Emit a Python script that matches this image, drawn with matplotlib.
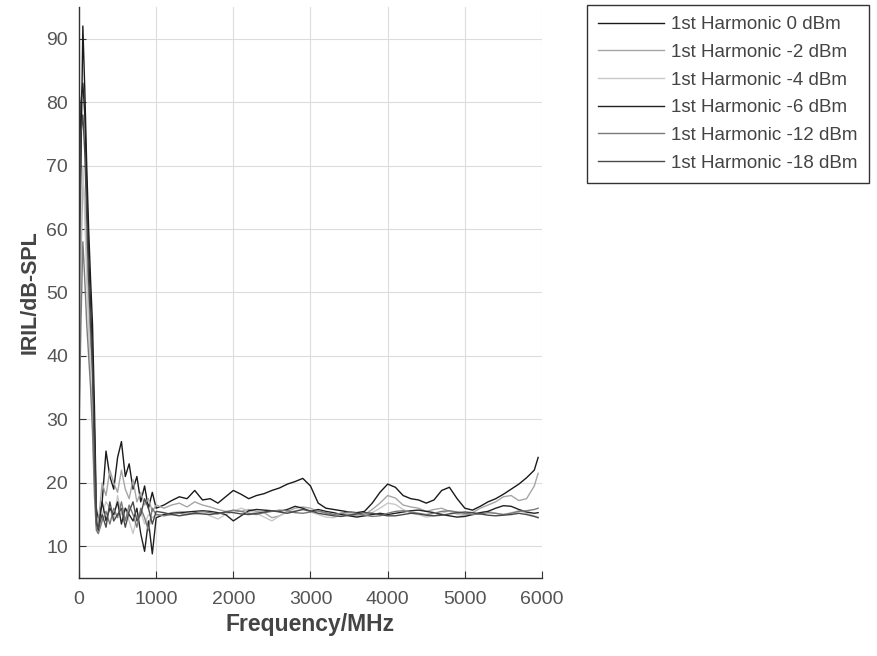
import matplotlib
matplotlib.use("Agg")
import matplotlib.pyplot as plt

plt.rcParams["font.family"] = ["Liberation Sans", "DejaVu Sans"]

# frequency grid (MHz): fine steps below 1 GHz, 100 MHz above
freq = (list(range(0, 251, 25))
        + list(range(300, 1001, 50))
        + list(range(1100, 5901, 100)) + [5950])

h0 = [35, 70, 92, 82, 70, 60, 52, 45, 32, 16, 14,
      17, 25, 21, 19, 24, 26.5, 21, 23, 19, 21, 17, 19.5, 16, 18.5, 16,
      16.5, 17.2, 17.8, 17.5, 18.8, 17.3, 17.5, 16.8, 17.8, 18.8,
      18.2, 17.5, 18.0, 18.3, 18.8, 19.2, 19.8, 20.2, 20.7, 19.5,
      16.8, 16.0, 15.8, 15.6, 15.4, 15.3, 15.5, 16.8, 18.5, 19.8,
      19.3, 18.0, 17.5, 17.3, 16.8, 17.3, 18.8, 19.3, 17.5, 16.0,
      15.7, 16.3, 17.0, 17.5, 18.2, 19.0, 19.8, 20.8, 22.0, 24.0]

h2 = [30, 55, 68, 64, 56, 48, 42, 36, 25, 15, 13.5,
      20, 18, 22, 20, 18.5, 22, 19, 17.5, 20.5, 17, 18.5, 16.5, 17.5, 15.5, 16.5,
      16.0, 16.5, 16.8, 16.2, 17.0, 16.5, 16.2, 15.8, 15.5, 15.6,
      15.5, 15.8, 15.5, 15.3, 14.5, 14.8, 15.5, 16.0, 16.2, 16.0,
      15.5, 15.2, 15.0, 15.2, 15.0, 14.8, 15.0, 15.8, 16.8, 18.0,
      17.6, 16.5, 16.2, 16.0, 15.5, 15.8, 16.0, 15.5, 15.2, 15.0,
      15.3, 16.0, 16.5, 17.0, 17.8, 18.0, 17.2, 17.5, 19.5, 21.5]

h4 = [40, 62, 70, 62, 52, 44, 38, 30, 20, 13, 12,
      15, 17, 16, 14, 18, 15, 16, 14, 12, 14.5, 15.5, 13.5, 15, 14.5, 15,
      15.0, 15.3, 15.5, 15.2, 15.0, 15.3, 14.8, 14.3, 15.0, 15.5,
      16.0, 15.6, 15.2, 14.6, 14.0, 14.8, 15.4, 15.6, 15.8, 15.4,
      15.0, 14.6, 14.5, 15.0, 15.2, 15.0, 14.8, 15.3, 16.0, 16.8,
      16.6, 15.8, 15.3, 15.0, 14.6, 14.8, 15.2, 15.6, 15.0, 14.8,
      15.0, 15.3, 15.5, 15.2, 15.0, 15.3, 15.6, 15.2, 14.8, 14.6]

h6 = [55, 80, 83, 78, 66, 56, 48, 40, 28, 14, 12.5,
      17, 14, 16, 15, 17, 13.5, 16, 15, 14, 16, 12, 9.2, 14, 8.8, 14.5,
      15.0, 15.2, 15.3, 15.4, 15.5, 15.6, 15.5, 15.3, 15.0, 14.0,
      14.8, 15.6, 15.8, 15.7, 15.6, 15.5, 15.8, 16.3, 16.0, 15.5,
      15.8, 15.5, 15.3, 15.0, 14.8, 14.6, 14.8, 15.0, 15.2, 15.0,
      15.2, 15.4, 15.6, 15.7, 15.5, 15.3, 15.0, 14.8, 14.6, 14.7,
      15.0, 15.3, 15.5, 16.0, 16.4, 16.3, 15.8, 15.4, 15.2, 15.3]

h12 = [28, 45, 58, 52, 45, 40, 35, 28, 18, 12.5, 12,
       14, 15.5, 13.5, 16, 14.5, 17, 14, 16.5, 15, 13, 16, 14.5, 12.5, 16, 15,
       14.8, 15.0, 15.2, 15.0, 15.3, 15.5, 15.3, 15.1, 15.4, 15.7,
       15.5, 15.2, 15.0, 15.3, 15.5, 15.7, 15.6, 15.3, 15.2, 15.4,
       15.6, 15.3, 15.0, 15.2, 15.4, 15.2, 14.9, 14.7, 14.8, 15.2,
       15.5, 15.6, 15.4, 15.2, 15.0, 15.2, 15.5, 15.6, 15.4, 15.2,
       15.0, 15.1, 15.3, 15.2, 15.0, 15.2, 15.5, 15.6, 15.8, 16.0]

h18 = [45, 75, 78, 72, 62, 52, 45, 38, 24, 13.5, 12.8,
       15, 13, 17, 14, 15, 16, 13, 15.5, 17, 14, 15, 17.5, 16, 13.5, 15.5,
       15.3, 15.0, 14.8, 15.0, 15.2, 15.1, 15.0, 15.2, 15.4, 15.3,
       15.1, 15.0, 15.2, 15.4, 15.6, 15.4, 15.2, 15.5, 15.8, 15.6,
       15.2, 15.0, 14.8, 14.7, 14.9, 15.1, 15.3, 15.2, 15.0, 14.8,
       14.8, 15.0, 15.2, 15.1, 14.9, 14.8, 14.9, 15.1, 15.3, 15.4,
       15.3, 15.1, 14.9, 14.8, 14.9, 15.0, 15.2, 15.0, 14.7, 14.5]

labels = ["1st Harmonic 0 dBm", "1st Harmonic -2 dBm", "1st Harmonic -4 dBm",
          "1st Harmonic -6 dBm", "1st Harmonic -12 dBm", "1st Harmonic -18 dBm"]
colors = ["#1a1a1a", "#a6a6a6", "#c8c8c8", "#222222", "#7a7a7a", "#4a4a4a"]

fig = plt.figure(figsize=(8.78, 6.56), dpi=100)
ax = fig.add_axes([79 / 878, 1 - 578 / 656, (542 - 79) / 878, 571 / 656])

for y, lab, c in zip([h0, h2, h4, h6, h12, h18], labels, colors):
    ax.plot(freq, y, color=c, lw=1.0, label=lab)

ax.set_xlim(0, 6000)
ax.set_ylim(5, 95)
ax.set_xticks(range(0, 6001, 1000))
ax.set_yticks(range(10, 91, 10))
ax.grid(True, color="#dcdcdc", lw=0.8)
ax.set_axisbelow(True)
for s in ["top", "right"]:
    ax.spines[s].set_visible(False)
for s in ["left", "bottom"]:
    ax.spines[s].set_color("#333333")
    ax.spines[s].set_linewidth(1.0)
ax.tick_params(direction="in", length=5, labelsize=14, colors="#333333",
               labelcolor="#555555")
ax.tick_params(axis="x", pad=9)
ax.tick_params(axis="y", pad=8)

ax.set_xlabel("Frequency/MHz", fontsize=16.5, fontweight="bold", color="#444444",
              labelpad=4)
ax.set_ylabel("IRIL/dB-SPL", fontsize=15.5, fontweight="bold", color="#444444",
              labelpad=4)

leg = ax.legend(loc="upper left", bbox_to_anchor=(587 / 878, 1 - 5 / 656),
                bbox_transform=fig.transFigure, borderaxespad=0, fontsize=13.5,
                handlelength=3.5, handletextpad=0.4, labelspacing=0.56,
                borderpad=0.6, fancybox=False, framealpha=1)
leg.get_frame().set_edgecolor("#333333")
leg.get_frame().set_linewidth(1.0)
for t in leg.get_texts():
    t.set_color("#444444")

fig.savefig("out.png", dpi=100)
